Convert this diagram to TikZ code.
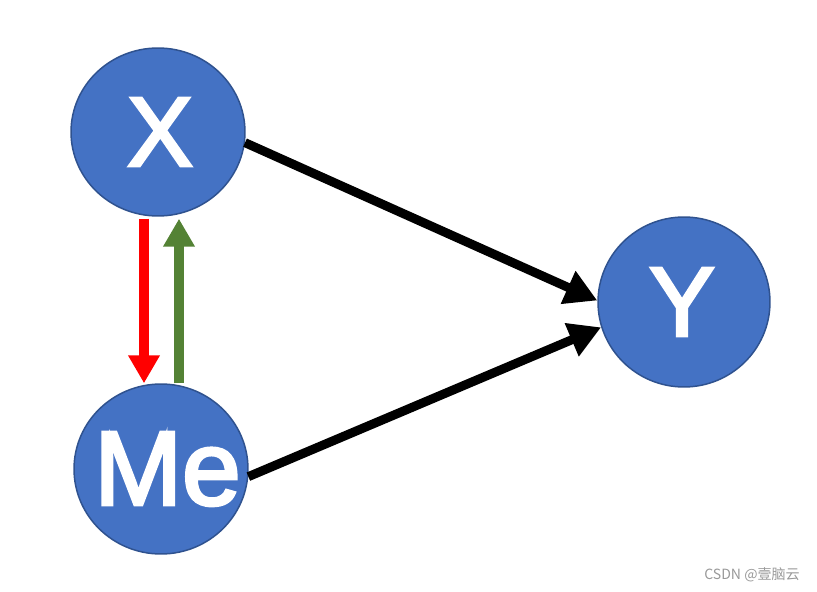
\documentclass[tikz,border=0pt]{standalone}
\usepackage{fontspec}
\setmainfont{Liberation Sans}
\newfontfamily\labelfont{Liberation Sans}[FakeBold=3]
\newfontfamily\cjkfont{Noto Sans CJK SC}
\usepackage{tikz}
\usetikzlibrary{shapes.geometric, arrows.meta, calc}
\usepackage{xcolor}
\definecolor{nodefill}{HTML}{4472C4}
\definecolor{nodeedge}{HTML}{2F528F}
\definecolor{backgreen}{HTML}{548235}

\begin{document}
\begin{tikzpicture}[x=0.02cm, y=-0.02cm,
    var/.style={ellipse, draw=nodeedge, line width=0.85pt, fill=nodefill,
        minimum width=3.48cm, minimum height=3.36cm, inner sep=0pt, text=white},
    effect/.style={line width=0.18cm, -{Triangle[length=0.64cm, width=0.68cm]}},
    link/.style={line width=0.2cm, -{Triangle[length=0.56cm, width=0.6cm]}}]
    \useasboundingbox (0,0) rectangle (817,591);

    % Variables
    \node[var, font=\labelfont\fontsize{56}{60}\selectfont] (X) at (158,132)
        {\makebox[0pt]{\kern0.08cm X}};
    \node[var, minimum height=3.4cm, font=\labelfont\fontsize{60}{66}\selectfont]
        (Me) at (161,469) {\makebox[0pt]{\kern0.26cm Me}};
    \node[var, minimum width=3.44cm, minimum height=3.4cm,
        font=\labelfont\fontsize{56}{60}\selectfont] (Y) at (684,302)
        {\makebox[0pt]{\kern-0.08cm Y}};

    % Effects on Y
    \draw[effect] (X.-7) -- (Y.179);
    \draw[effect] (Me.-5) -- (Y.197);

    % X to Me
    \coordinate (redtop) at ($(X.south)+(-14,2)$);
    \coordinate (redtip) at (redtop |- Me.north);
    \draw[link, red] (redtop) -- (redtip);

    % Me back to X
    \coordinate (greenbot) at ($(Me.north)+(18,0)$);
    \coordinate (greenx) at (greenbot |- X.south);
    \coordinate (greentip) at ($(greenx)+(0,2)$);
    \draw[link, backgreen] (greenbot) -- (greentip);

    % Watermark
    \node[text=gray!80, font=\cjkfont\fontsize{8}{10}\selectfont]
        (mark) at (752,575) {CSDN @壹脑云};
\end{tikzpicture}
\end{document}
